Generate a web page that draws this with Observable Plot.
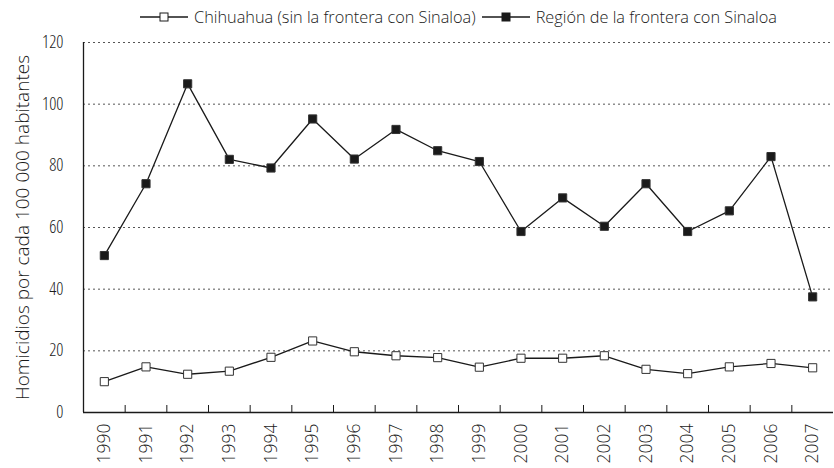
<!DOCTYPE html>
<html>
<head>
<meta charset="utf-8">
<script src="https://cdn.jsdelivr.net/npm/d3@7"></script>
<script src="https://cdn.jsdelivr.net/npm/@observablehq/plot@0.6"></script>
<style>
  body { margin: 0; background: #fff; font-family: "Open Sans", sans-serif; font-weight: 300; font-stretch: 90%; }
  #legend { height: 30px; margin-left: 83px; width: 751px; display: flex; justify-content: center; align-items: center; font-size: 16.3px; color: #1a1a1a; padding-top: 4px; box-sizing: border-box; }
  #legend .item { display: flex; align-items: center; margin: 0 3px; }
  #legend svg { margin-right: 6px; }
  #chart svg text { font-family: "Open Sans", sans-serif; font-weight: 300; font-stretch: 84%; }
  #chart g[aria-label="y-axis label"] text { font-size: 19px; font-stretch: 100%; }
  #chart g[aria-label="x-axis tick label"] text { font-stretch: 100%; }
</style>
</head>
<body>
<div id="legend"></div>
<div id="chart"></div>
<script>
const years = [1990,1991,1992,1993,1994,1995,1996,1997,1998,1999,2000,2001,2002,2003,2004,2005,2006,2007];
const chihuahua = [10.0,14.8,12.4,13.4,17.9,23.2,19.7,18.4,17.8,14.7,17.6,17.6,18.4,14.0,12.6,14.8,15.9,14.5];
const frontera = [50.9,74.2,106.6,82.1,79.3,95.2,82.2,91.8,84.9,81.4,58.7,69.6,60.4,74.2,58.7,65.4,83.0,37.5];
const seriesNames = ["Chihuahua (sin la frontera con Sinaloa)", "Región de la frontera con Sinaloa"];
const yTicks = [0,20,40,60,80,100,120];
const gridTicks = [20,40,60,80,100,120];
const yLabel = "Homicidios por cada 100 000 habitantes";

const fills = ["#fff", "#1a1a1a"];
const data = [];
years.forEach((y, i) => {
  data.push({year: y, value: chihuahua[i], serie: seriesNames[0]});
  data.push({year: y, value: frontera[i], serie: seriesNames[1]});
});
const boundaries = years.slice(0, -1).map(y => y + 0.5);

// legend
const legend = document.getElementById("legend");
seriesNames.forEach((name, i) => {
  const item = document.createElement("div");
  item.className = "item";
  item.innerHTML = `<svg width="48" height="12"><line x1="0" x2="48" y1="6" y2="6" stroke="#1a1a1a" stroke-width="1.3"/><rect x="20" y="2" width="8" height="8" fill="${fills[i]}" stroke="#1a1a1a" stroke-width="1"/></svg><span>${name}</span>`;
  legend.appendChild(item);
});

const chart = Plot.plot({
  width: 834,
  height: 438,
  marginTop: 12,
  marginBottom: 56,
  marginLeft: 83,
  marginRight: 1,
  style: {fontSize: "17px", color: "#1a1a1a"},
  x: {domain: [years[0] - 0.5, years[years.length - 1] + 0.5]},
  y: {domain: [0, 120]},
  marks: [
    Plot.ruleY(gridTicks, {stroke: "#555", strokeDasharray: "2,3", strokeWidth: 1}),
    Plot.axisY(yTicks, {tickSize: 0, tickPadding: 20, fontSize: 17.5, label: yLabel, labelAnchor: "center", labelArrow: "none", labelOffset: 68}),
    Plot.axisX(years, {tickSize: 0, tickPadding: 11, tickRotate: -90, tickFormat: d => String(d), fontSize: 17.5, label: null}),
    Plot.ruleX(boundaries, {y1: 0, y2: 0, insetTop: -7, stroke: "#1a1a1a"}),
    Plot.ruleX([years[0] - 0.5], {stroke: "#1a1a1a", strokeWidth: 1.3}),
    Plot.ruleY([0], {stroke: "#1a1a1a", strokeWidth: 1.3}),
    Plot.line(data, {x: "year", y: "value", z: "serie", stroke: "#1a1a1a", strokeWidth: 1.3}),
    Plot.dot(data, {x: "year", y: "value", symbol: "square", r: 4.6, fill: d => d.serie === seriesNames[0] ? fills[0] : fills[1], stroke: "#333", strokeWidth: 1})
  ]
});
document.getElementById("chart").appendChild(chart);
</script>
</body>
</html>
